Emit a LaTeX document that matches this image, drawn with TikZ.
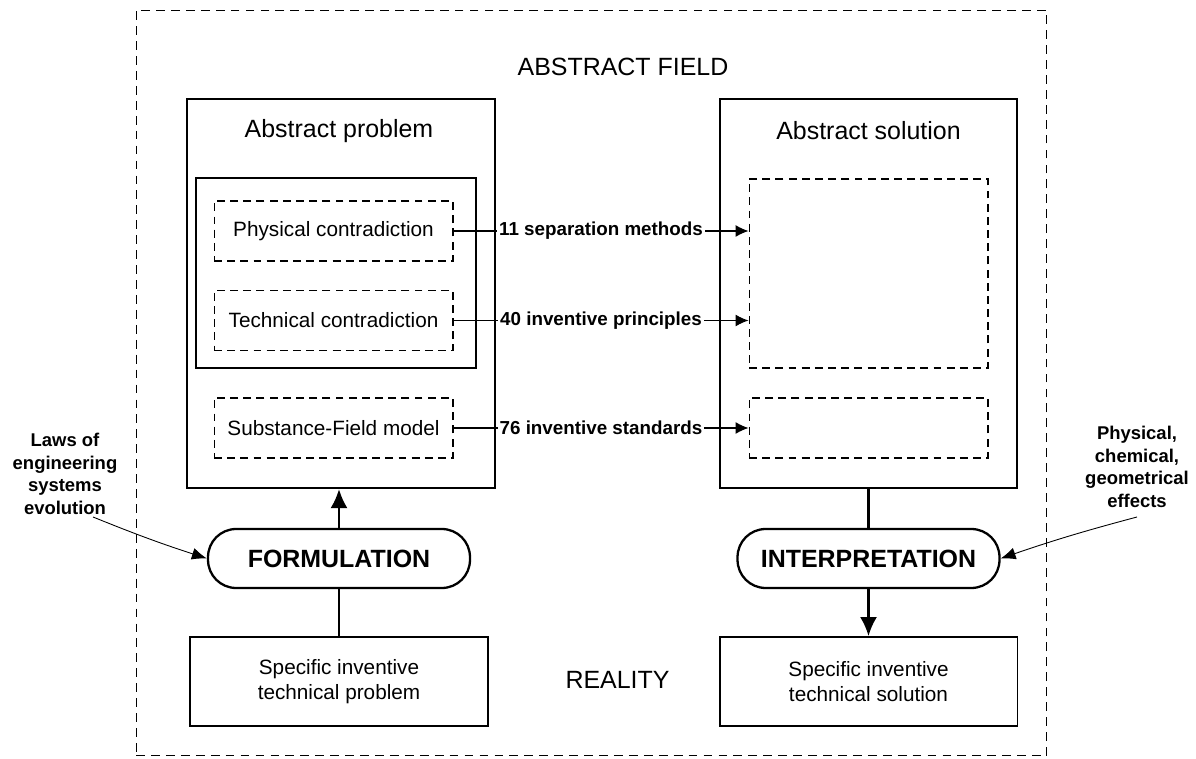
\documentclass[tikz,border=0pt]{standalone}
\usepackage{fontspec}
\setmainfont{Liberation Sans}
\usetikzlibrary{arrows.meta}

\tikzset{
  fieldbox/.style={draw=black, rectangle, dash pattern=on 5pt off 3.5pt, line width=0.6pt, inner sep=0pt},
  stagebox/.style={draw=black, rectangle, line width=1.3pt, inner sep=0pt},
  groupbox/.style={draw=black, rectangle, line width=0.7pt, inner sep=0pt},
  modelbox/.style={draw=black, rectangle, dash pattern=on 4.5pt off 3pt, line width=0.6pt, inner sep=0pt,
    minimum width=4.78cm, minimum height=1.2cm, font=\fontsize{11.8}{14}\selectfont},
  specbox/.style={draw=black, rectangle, line width=1.1pt, align=center, inner sep=0pt,
    minimum width=5.96cm, minimum height=1.78cm, font=\fontsize{11.8}{14.2}\selectfont},
  actbox/.style={draw=black, rectangle, rounded corners=16pt, line width=1.3pt, inner sep=0pt,
    minimum width=5.24cm, minimum height=1.18cm, font=\bfseries\fontsize{14.2}{16}\selectfont},
  titletext/.style={inner sep=0pt, font=\fontsize{14.2}{16}\selectfont},
  sidetext/.style={inner sep=0pt, align=center, font=\bfseries\fontsize{10.5}{12.8}\selectfont},
  toollabel/.style={fill=white, inner sep=1pt, font=\bfseries\fontsize{10.7}{12}\selectfont},
  toolarrow/.style={-{Latex[length=2.6mm, width=2.4mm]}, line width=0.6pt},
  bigarrow/.style={-{Latex[length=3.8mm, width=3.4mm]}, line width=1.3pt},
  sidearrow/.style={-{Latex[length=3mm, width=2.4mm]}, line width=0.5pt}
}

\begin{document}
\begin{tikzpicture}[x=0.02cm, y=-0.02cm]
\useasboundingbox (0,0) rectangle (1196,759);

\node[fieldbox, minimum width=18.22cm, minimum height=14.92cm] (field) at (591.5,383) {};
\node[titletext] (fieldname) at (623,67) {ABSTRACT FIELD};
\node[titletext] (reality) at (617.5,680) {REALITY};

% abstract problem
\node[stagebox, minimum width=6.16cm, minimum height=7.78cm] (absprob) at (341,293.5) {};
\node[titletext] (absprobname) at (339,131) {Abstract problem};
\node[groupbox, minimum width=5.6cm, minimum height=3.8cm] (contra) at (336,273) {};
\node[modelbox] (physical) at (333.5,231) {Physical contradiction};
\node[modelbox] (technical) at (333.5,320.5) {Technical contradiction};
\node[modelbox] (sufield) at (333.5,428) {Substance-Field model};

% abstract solution
\node[stagebox, minimum width=5.94cm, minimum height=7.78cm] (abssol) at (868.5,293.5) {};
\node[titletext] (abssolname) at (868.5,131) {Abstract solution};
\node[modelbox, minimum height=3.78cm] (solbig) at (868.5,273.5) {};
\node[modelbox] (solsmall) at (868.5,428) {};

\draw[toolarrow] (physical.east) -- node[toollabel] {11 separation methods} (physical.east -| solbig.west);
\draw[toolarrow] (technical.east) -- node[toollabel] {40 inventive principles} (technical.east -| solbig.west);
\draw[toolarrow] (sufield.east) -- node[toollabel] {76 inventive standards} (solsmall.west);

% reality level
\node[actbox] (formulation) at (339,558.5) {FORMULATION};
\node[actbox] (interpretation) at (868.5,558.5) {INTERPRETATION};
\node[specbox] (specprob) at (339,681.5) {Specific inventive\\technical problem};
\node[specbox] (specsol) at (868.5,681.5) {Specific inventive\\technical solution};

\draw[line width=1.3pt] (specprob.north) -- (formulation.south);
\draw[bigarrow] (formulation.north) -- (formulation.north |- absprob.south);
\draw[line width=1.3pt] (abssol.south) -- (interpretation.north);
\draw[bigarrow] (interpretation.south) -- (specsol.north);

% outside knowledge
\node[sidetext] (laws) at (65,474) {Laws of\\engineering\\systems\\evolution};
\node[sidetext] (effects) at (1137,467) {Physical,\\chemical,\\geometrical\\effects};
\coordinate (lawsfoot) at (93,517);
\coordinate (effectsfoot) at (1137,517);
\draw[sidearrow] (lawsfoot) to[bend right=2] (formulation.west);
\draw[sidearrow] (effectsfoot) to[bend right=2] (interpretation.east);

\end{tikzpicture}
\end{document}
